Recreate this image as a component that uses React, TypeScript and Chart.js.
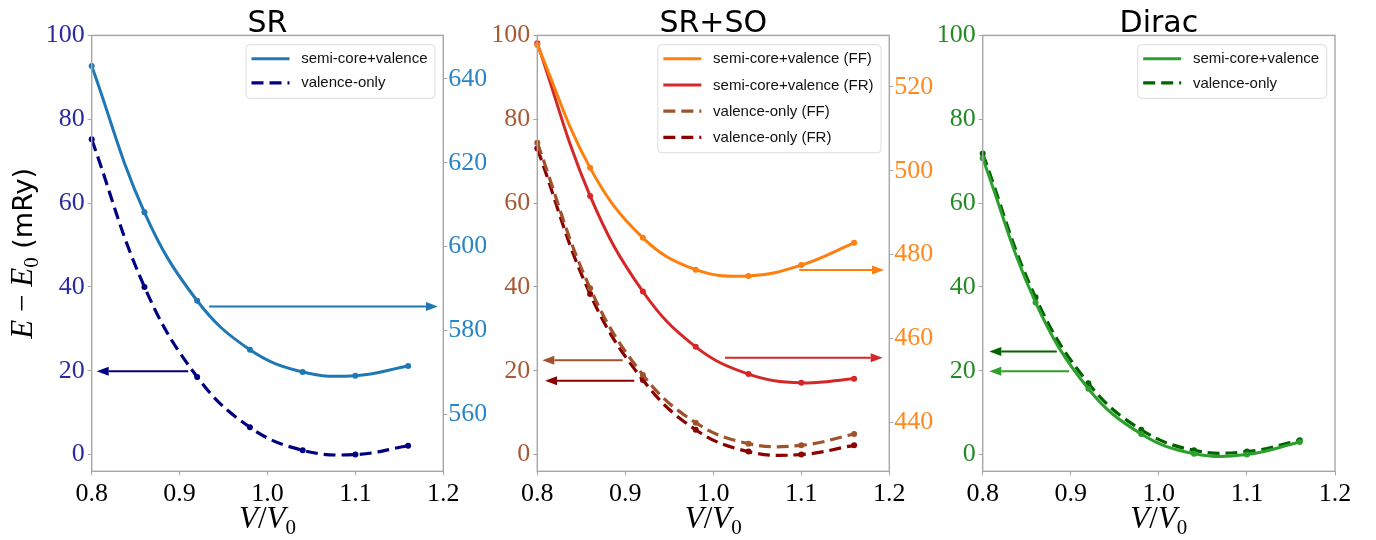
import React, { useEffect, useRef } from 'react';
import { Chart, registerables } from 'chart.js';

Chart.register(...registerables);

// ---------------- data ----------------
const volumes = [0.8, 0.86, 0.92, 0.98, 1.04, 1.1, 1.16];
const xTicks = [0.8, 0.9, 1.0, 1.1, 1.2];
const leftTicks = [0, 20, 40, 60, 80, 100];

// SR panel
const srSemiCore = [643.1, 608.2, 587.1, 575.4, 570.1, 569.2, 571.5]; // right axis
const srValence = [75.2, 40.0, 18.5, 6.5, 1.0, 0.0, 2.1]; // left axis
const srRightTicks = [560, 580, 600, 620, 640];

// SR+SO panel
const soSemiCoreFF = [530.0, 500.7, 484.0, 476.4, 474.9, 477.5, 482.8]; // right axis
const soSemiCoreFR = [530.4, 494.0, 471.2, 458.0, 451.5, 449.4, 450.4]; // right axis
const soValenceFF = [74.4, 39.7, 19.0, 7.6, 2.6, 2.2, 4.9]; // left axis
const soValenceFR = [73.0, 38.3, 17.8, 5.9, 0.7, 0.0, 2.2]; // left axis
const soRightTicks = [440, 460, 480, 500, 520];

// Dirac panel
const diracSemiCore = [70.7, 36.3, 15.7, 4.9, 0.2, 0.0, 3.0];
const diracValence = [71.8, 37.5, 17.0, 5.9, 1.0, 0.7, 3.4];

// arrow annotations (data units: from x, to x, at left-axis y)
const srArrowFrom = [0.9336, 0.9098];
const srArrowTo = [1.1939, 0.8057];
const srArrowAt = [35.3, 19.85];

const soArrowFrom = [0.897, 0.9102, 1.0977, 1.0133];
const soArrowTo = [0.8057, 0.8088, 1.194, 1.1925];
const soArrowAt = [22.5, 17.6, 44.0, 23.1];

const diracArrowFrom = [0.8841, 0.898];
const diracArrowTo = [0.8075, 0.8075];
const diracArrowAt = [24.6, 19.85];

// ---------------- styles ----------------
const C = {
  blue: '#1f77b4',
  navy: '#000080',
  orange: '#ff7f0e',
  red: '#d62728',
  sienna: '#a0522d',
  darkred: '#8b0000',
  green: '#2ca02c',
  darkgreen: '#006400',
};

const SERIF = '"Liberation Serif", "DejaVu Serif", serif';
const SANS = '"DejaVu Sans", sans-serif';
const LEGEND_FONT = '15px "Liberation Sans", sans-serif';
const FRAME = '#a6a6a6';

function series(values: number[]) {
  return volumes.map((v, i) => ({ x: v, y: values[i] }));
}

function lineDs(label: string, values: number[], color: string, dashed: boolean, axis: string) {
  return {
    label,
    data: series(values),
    borderColor: color,
    backgroundColor: color,
    borderWidth: dashed ? 3.2 : 3,
    borderDash: dashed ? [12, 6] : [],
    pointRadius: 3,
    pointBackgroundColor: color,
    pointBorderWidth: 0,
    tension: 0.4,
    yAxisID: axis,
    clip: false,
    fill: false,
  };
}

type Seg = { t: string; font: string; dy?: number };
function drawSegs(ctx: CanvasRenderingContext2D, segs: Seg[], x: number, y: number) {
  let total = 0;
  const widths = segs.map((s) => {
    ctx.font = s.font;
    const w = ctx.measureText(s.t).width;
    total += w;
    return w;
  });
  let cx = x - total / 2;
  ctx.textAlign = 'left';
  ctx.textBaseline = 'alphabetic';
  segs.forEach((s, i) => {
    ctx.font = s.font;
    ctx.fillText(s.t, cx, y + (s.dy || 0));
    cx += widths[i];
  });
}

interface Panel {
  key: string;
  title: string;
  canvasLeft: number;
  canvasWidth: number;
  leftW: number;
  rightW: number;
  rightPad: number;
  leftColor: string;
  rightColor?: string;
  rightMin?: number;
  rightMax?: number;
  rightTicks?: number[];
  datasets: any[];
  legendDash: boolean[];
  rowGap: number;
  arrows: { from: number[]; to: number[]; at: number[]; colors: string[] };
  yTitle: boolean;
  leftPad: number;
  rightTickPad: number;
}

const panels: Panel[] = [
  {
    key: 'sr',
    title: 'SR',
    canvasLeft: 0,
    canvasWidth: 486,
    leftW: 91.7,
    rightW: 42.7,
    rightPad: 0,
    leftColor: '#2a2aa2',
    rightColor: '#2a85c6',
    rightMin: 546.4,
    rightMax: 650.4,
    rightTicks: srRightTicks,
    datasets: [
      lineDs('semi-core+valence', srSemiCore, C.blue, false, 'y1'),
      lineDs('valence-only', srValence, C.navy, true, 'y'),
    ],
    legendDash: [false, true],
    rowGap: 24.1,
    arrows: { from: srArrowFrom, to: srArrowTo, at: srArrowAt, colors: [C.blue, C.navy] },
    yTitle: true,
    leftPad: 3,
    rightTickPad: 1,
  },
  {
    key: 'so',
    title: 'SR+SO',
    canvasLeft: 486,
    canvasWidth: 450,
    leftW: 51.3,
    rightW: 46.7,
    rightPad: 0,
    leftColor: '#a85a35',
    rightColor: '#fd8a22',
    rightMin: 428.3,
    rightMax: 532.3,
    rightTicks: soRightTicks,
    datasets: [
      lineDs('semi-core+valence (FF)', soSemiCoreFF, C.orange, false, 'y1'),
      lineDs('semi-core+valence (FR)', soSemiCoreFR, C.red, false, 'y1'),
      lineDs('valence-only (FF)', soValenceFF, C.sienna, true, 'y'),
      lineDs('valence-only (FR)', soValenceFR, C.darkred, true, 'y'),
    ],
    legendDash: [false, false, true, true],
    rowGap: 26.2,
    arrows: {
      from: soArrowFrom,
      to: soArrowTo,
      at: soArrowAt,
      colors: [C.sienna, C.darkred, C.orange, C.red],
    },
    yTitle: false,
    leftPad: 3,
    rightTickPad: 1,
  },
  {
    key: 'dirac',
    title: 'Dirac',
    canvasLeft: 926,
    canvasWidth: 450,
    leftW: 56.7,
    rightW: 0,
    rightPad: 41,
    leftColor: '#238b23',
    datasets: [
      lineDs('semi-core+valence', diracSemiCore, C.green, false, 'y'),
      lineDs('valence-only', diracValence, C.darkgreen, true, 'y'),
    ],
    legendDash: [false, true],
    rowGap: 24.2,
    arrows: { from: diracArrowFrom, to: diracArrowTo, at: diracArrowAt, colors: [C.darkgreen, C.green] },
    yTitle: false,
    leftPad: 3,
    rightTickPad: 1,
  },
];

function makePlugin(p: Panel) {
  return {
    id: 'decor_' + p.key,
    afterDraw(chart: any) {
      const ctx: CanvasRenderingContext2D = chart.ctx;
      const a = chart.chartArea;
      const xs = chart.scales.x;
      const ys = chart.scales.y;
      ctx.save();

      // frame
      ctx.strokeStyle = FRAME;
      ctx.lineWidth = 1.4;
      ctx.setLineDash([]);
      ctx.strokeRect(a.left, a.top, a.right - a.left, a.bottom - a.top);

      // arrows
      p.arrows.from.forEach((f, i) => {
        const x1 = xs.getPixelForValue(f);
        const x2 = xs.getPixelForValue(p.arrows.to[i]);
        const y = ys.getPixelForValue(p.arrows.at[i]);
        const dir = x2 > x1 ? 1 : -1;
        const head = 12;
        ctx.strokeStyle = p.arrows.colors[i];
        ctx.fillStyle = p.arrows.colors[i];
        ctx.lineWidth = 2;
        ctx.beginPath();
        ctx.moveTo(x1, y);
        ctx.lineTo(x2 - dir * head, y);
        ctx.stroke();
        ctx.beginPath();
        ctx.moveTo(x2, y);
        ctx.lineTo(x2 - dir * head, y - 4.5);
        ctx.lineTo(x2 - dir * head, y + 4.5);
        ctx.closePath();
        ctx.fill();
      });

      // legend
      ctx.font = LEGEND_FONT;
      const labels = chart.data.datasets.map((d: any) => d.label);
      const maxW = Math.max(...labels.map((l: string) => ctx.measureText(l).width));
      const boxRight = a.right - 8.3;
      const boxTop = a.top + 9.3;
      const boxW = 5.5 + 38 + 11.7 + maxW + 7.5;
      const boxLeft = boxRight - boxW;
      const firstRow = boxTop + 14;
      const lastRow = firstRow + p.rowGap * (labels.length - 1);
      const boxBottom = lastRow + 15.5;
      ctx.beginPath();
      const r = 4;
      ctx.moveTo(boxLeft + r, boxTop);
      ctx.arcTo(boxRight, boxTop, boxRight, boxBottom, r);
      ctx.arcTo(boxRight, boxBottom, boxLeft, boxBottom, r);
      ctx.arcTo(boxLeft, boxBottom, boxLeft, boxTop, r);
      ctx.arcTo(boxLeft, boxTop, boxRight, boxTop, r);
      ctx.closePath();
      ctx.fillStyle = 'rgba(255,255,255,0.85)';
      ctx.fill();
      ctx.strokeStyle = '#dcdcdc';
      ctx.lineWidth = 1;
      ctx.stroke();
      chart.data.datasets.forEach((d: any, i: number) => {
        const ry = firstRow + p.rowGap * i;
        const sx = boxLeft + 5.5;
        ctx.strokeStyle = d.borderColor;
        ctx.lineWidth = d.borderWidth;
        ctx.setLineDash(p.legendDash[i] ? [12, 6] : []);
        ctx.beginPath();
        ctx.moveTo(sx, ry);
        ctx.lineTo(sx + 38, ry);
        ctx.stroke();
        ctx.setLineDash([]);
        ctx.fillStyle = '#111';
        ctx.font = LEGEND_FONT;
        ctx.textAlign = 'left';
        ctx.textBaseline = 'middle';
        ctx.fillText(d.label, sx + 38 + 11.7, ry + 0.5);
      });

      // panel title
      ctx.fillStyle = '#000';
      ctx.font = '30px ' + SANS;
      ctx.textAlign = 'center';
      ctx.textBaseline = 'alphabetic';
      ctx.fillText(p.title, (a.left + a.right) / 2, 31.7);

      // x title V/V0
      const cx = (a.left + a.right) / 2;
      drawSegs(
        ctx,
        [
          { t: 'V', font: 'italic 31px ' + SERIF },
          { t: '/', font: '31px ' + SERIF },
          { t: 'V', font: 'italic 31px ' + SERIF },
          { t: '0', font: '21px ' + SERIF, dy: 6 },
        ],
        cx,
        528
      );

      // y title
      if (p.yTitle) {
        ctx.translate(32, (a.top + a.bottom) / 2);
        ctx.rotate(-Math.PI / 2);
        drawSegs(
          ctx,
          [
            { t: 'E', font: 'italic 31px ' + SERIF },
            { t: ' \u2212 ', font: '31px ' + SERIF },
            { t: 'E', font: 'italic 31px ' + SERIF },
            { t: '0', font: '21px ' + SERIF, dy: 6 },
            { t: ' (mRy)', font: '27px ' + SANS },
          ],
          0,
          0
        );
      }
      ctx.restore();
    },
  };
}

function buildOptions(p: Panel) {
  const tickFont = { family: SERIF, size: 26, lineHeight: 1 };
  const grid = {
    drawOnChartArea: false,
    drawTicks: true,
    tickLength: 4,
    color: FRAME,
    lineWidth: 1,
  };
  const scales: any = {
    x: {
      type: 'linear',
      min: 0.8,
      max: 1.2,
      afterBuildTicks: (s: any) => {
        s.ticks = xTicks.map((v) => ({ value: v }));
      },
      afterFit: (s: any) => {
        s.height = 540 - 471.3;
      },
      ticks: {
        font: tickFont,
        color: '#000',
        padding: 6,
        maxRotation: 0,
        autoSkip: false,
        callback: (v: number) => Number(v).toFixed(1),
      },
      grid,
      border: { display: false },
    },
    y: {
      type: 'linear',
      position: 'left',
      min: -4,
      max: 100,
      afterBuildTicks: (s: any) => {
        s.ticks = leftTicks.map((v) => ({ value: v }));
      },
      afterFit: (s: any) => {
        s.width = p.leftW;
      },
      ticks: {
        font: tickFont,
        color: p.leftColor,
        padding: p.leftPad,
        autoSkip: false,
        callback: (v: number) => String(v),
      },
      grid,
      border: { display: false },
    },
  };
  if (p.rightTicks) {
    scales.y1 = {
      type: 'linear',
      position: 'right',
      min: p.rightMin,
      max: p.rightMax,
      afterBuildTicks: (s: any) => {
        s.ticks = (p.rightTicks as number[]).map((v) => ({ value: v }));
      },
      afterFit: (s: any) => {
        s.width = p.rightW;
      },
      ticks: {
        font: tickFont,
        color: p.rightColor,
        padding: p.rightTickPad,
        autoSkip: false,
        callback: (v: number) => String(v),
      },
      grid,
      border: { display: false },
    };
  }
  return {
    responsive: false,
    animation: false,
    devicePixelRatio: 1,
    layout: { padding: { top: 35.4, left: 0, right: p.rightPad, bottom: 0 } },
    plugins: { legend: { display: false }, tooltip: { enabled: false }, title: { display: false } },
    scales,
  };
}

function PanelChart({ p }: { p: Panel }) {
  const ref = useRef<HTMLCanvasElement>(null);
  useEffect(() => {
    if (!ref.current) return;
    const chart = new Chart(ref.current, {
      type: 'line',
      data: { datasets: p.datasets },
      options: buildOptions(p) as any,
      plugins: [makePlugin(p)],
    });
    return () => chart.destroy();
  }, [p]);
  return (
    <canvas
      ref={ref}
      width={p.canvasWidth}
      height={540}
      style={{ position: 'absolute', left: p.canvasLeft, top: 0, width: p.canvasWidth, height: 540 }}
    />
  );
}

export default function App() {
  return (
    <div
      style={{
        position: 'fixed',
        left: 0,
        top: 0,
        width: 1376,
        height: 540,
        background: '#fff',
        overflow: 'hidden',
      }}
    >
      {panels.map((p) => (
        <PanelChart key={p.key} p={p} />
      ))}
    </div>
  );
}
